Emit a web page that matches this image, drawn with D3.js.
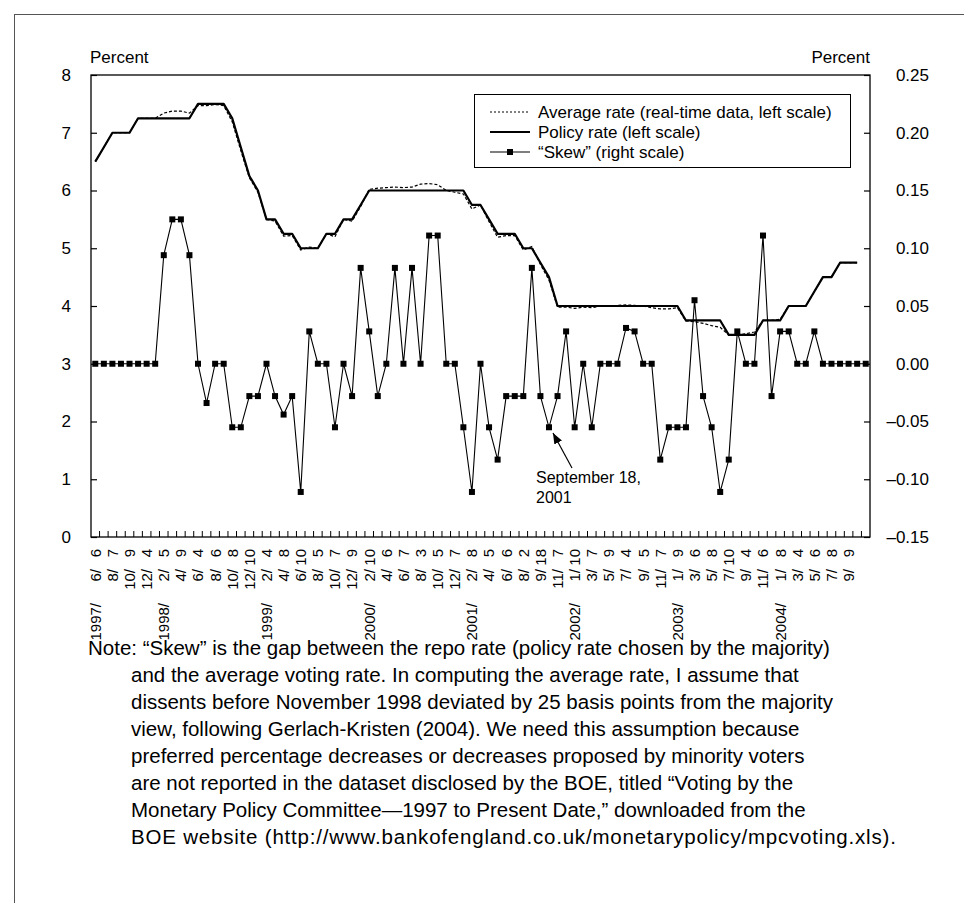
<!DOCTYPE html>
<html lang="en">
<head>
<meta charset="utf-8">
<title>Policy rate, average rate and skew</title>
<script src="https://cdn.jsdelivr.net/npm/d3@7"></script>
<style>
  body { margin: 0; background: #fff; }
  svg { display: block; font-family: "Liberation Sans", Arial, Helvetica, sans-serif; }
  .lbl { font-size: 15px; }
  .tick text { font-size: 17px; }
</style>
</head>
<body>
<div id="chart"></div>
<script>
// meeting dates (last two have no label in the original)
var dates = [
  "1997/6/6","1997/7/10","1997/8/7","1997/9/11","1997/10/9","1997/11/6","1997/12/4",
  "1998/1/8","1998/2/5","1998/3/5","1998/4/9","1998/5/7","1998/6/4","1998/7/9","1998/8/6","1998/9/10","1998/10/8","1998/11/5","1998/12/10",
  "1999/1/7","1999/2/4","1999/3/4","1999/4/8","1999/5/6","1999/6/10","1999/7/8","1999/8/5","1999/9/8","1999/10/7","1999/11/4","1999/12/9",
  "2000/1/13","2000/2/10","2000/3/9","2000/4/6","2000/5/4","2000/6/7","2000/7/6","2000/8/3","2000/9/7","2000/10/5","2000/11/9","2000/12/7",
  "2001/1/11","2001/2/8","2001/3/8","2001/4/5","2001/5/10","2001/6/6","2001/7/5","2001/8/2","2001/9/5","2001/9/18","2001/10/4","2001/11/7","2001/12/13",
  "2002/1/10","2002/2/7","2002/3/7","2002/4/4","2002/5/9","2002/6/6","2002/7/4","2002/8/1","2002/9/5","2002/10/10","2002/11/7","2002/12/12",
  "2003/1/9","2003/2/6","2003/3/6","2003/4/10","2003/5/8","2003/6/5","2003/7/10","2003/8/7","2003/9/4","2003/10/9","2003/11/6","2003/12/4",
  "2004/1/8","2004/2/5","2004/3/4","2004/4/8","2004/5/6","2004/6/10","2004/7/8","2004/8/5","2004/9/9",
  "", ""
];

var policyRate = [
  6.5, 6.75, 7.0, 7.0, 7.0, 7.25, 7.25,
  7.25, 7.25, 7.25, 7.25, 7.25, 7.5, 7.5, 7.5, 7.5, 7.25, 6.75, 6.25,
  6.0, 5.5, 5.5, 5.25, 5.25, 5.0, 5.0, 5.0, 5.25, 5.25, 5.5, 5.5,
  5.75, 6.0, 6.0, 6.0, 6.0, 6.0, 6.0, 6.0, 6.0, 6.0, 6.0, 6.0,
  6.0, 5.75, 5.75, 5.5, 5.25, 5.25, 5.25, 5.0, 5.0, 4.75, 4.5, 4.0, 4.0,
  4.0, 4.0, 4.0, 4.0, 4.0, 4.0, 4.0, 4.0, 4.0, 4.0, 4.0, 4.0,
  4.0, 3.75, 3.75, 3.75, 3.75, 3.75, 3.5, 3.5, 3.5, 3.5, 3.75, 3.75,
  3.75, 4.0, 4.0, 4.0, 4.25, 4.5, 4.5, 4.75, 4.75,
  4.75, null
];

var averageRate = [
  6.5, 6.75, 7.0, 7.0, 7.0, 7.25, 7.25,
  7.25, 7.34, 7.375, 7.375, 7.34, 7.47, 7.47, 7.49, 7.47, 7.19, 6.69, 6.22,
  5.97, 5.5, 5.47, 5.21, 5.22, 4.97, 5.02, 5.0, 5.25, 5.2, 5.5, 5.47,
  5.72, 6.02, 6.04, 6.05, 6.06, 6.05, 6.06, 6.11, 6.12, 6.1, 6.0, 5.97,
  5.94, 5.68, 5.75, 5.46, 5.19, 5.22, 5.22, 4.97, 5.03, 4.72, 4.45, 3.98, 3.98,
  3.96, 3.98, 3.97, 4.0, 4.0, 4.01, 4.02, 4.01, 4.0, 3.97, 3.95, 3.95,
  3.97, 3.74, 3.73, 3.7, 3.66, 3.63, 3.5, 3.5, 3.52, 3.55, 3.75, 3.75,
  3.77, 4.0, 4.0, 4.0, 4.25, 4.5, 4.5, 4.75, 4.75,
  4.75, null
];

var skew = [
  0, 0, 0, 0, 0, 0, 0,
  0, 0.094, 0.125, 0.125, 0.094, 0, -0.034, 0, 0, -0.055, -0.055, -0.028,
  -0.028, 0, -0.028, -0.044, -0.028, -0.111, 0.028, 0, 0, -0.055, 0, -0.028,
  0.083, 0.028, -0.028, 0, 0.083, 0, 0.083, 0, 0.111, 0.111, 0, 0,
  -0.055, -0.111, 0, -0.055, -0.083, -0.028, -0.028, -0.028, 0.083, -0.028, -0.055, -0.028, 0.028,
  -0.055, 0, -0.055, 0, 0, 0, 0.031, 0.028, 0, 0, -0.083, -0.055,
  -0.055, -0.055, 0.055, -0.028, -0.055, -0.111, -0.083, 0.028, 0, 0, 0.111, -0.028,
  0.028, 0.028, 0, 0, 0.028, 0, 0, 0, 0,
  0, 0
];

var leftTicks = [0, 1, 2, 3, 4, 5, 6, 7, 8];
var rightTicks = [-0.15, -0.10, -0.05, 0.00, 0.05, 0.10, 0.15, 0.20, 0.25];
var legendNames = [
  "Average rate (real-time data, left scale)",
  "Policy rate (left scale)",
  "\u201cSkew\u201d (right scale)"
];
var noteLines = [
  "Note: \u201cSkew\u201d is the gap between the repo rate (policy rate chosen by the majority)",
  "and the average voting rate. In computing the average rate, I assume that",
  "dissents before November 1998 deviated by 25 basis points from the majority",
  "view, following Gerlach-Kristen (2004). We need this assumption because",
  "preferred percentage decreases or decreases proposed by minority voters",
  "are not reported in the dataset disclosed by the BOE, titled \u201cVoting by the",
  "Monetary Policy Committee\u20141997 to Present Date,\u201d downloaded from the",
  "BOE website (http://www.bankofengland.co.uk/monetarypolicy/mpcvoting.xls)."
];

var W = 964, H = 903;
var mL = 91, mR = 870, mT = 75, mB = 537;

var svg = d3.select("#chart").append("svg")
    .attr("width", W)
    .attr("height", H);

// outer frame (only top and left edges are visible)
svg.append("rect")
    .attr("x", 14.5).attr("y", 14.5)
    .attr("width", W).attr("height", H)
    .style("fill", "none").style("stroke", "#555").style("stroke-width", 1);

var x = d3.scaleBand()
    .domain(d3.range(dates.length))
    .range([mL, mR]);
var cx = i => x(i) + x.bandwidth() / 2;

var yL = d3.scaleLinear().domain([0, 8]).range([mB, mT]);
var yR = d3.scaleLinear().domain([-0.15, 0.25]).range([mB, mT]);

var fmtR = d => (d < -1e-9 ? "\u2013" : "") + d3.format(".2f")(Math.abs(d));

// left axis
var gL = svg.append("g")
    .attr("transform", `translate(${mL},0)`)
    .call(d3.axisLeft(yL).tickValues(leftTicks).tickSizeInner(-6).tickSizeOuter(0).tickPadding(20).tickFormat(d3.format("d")));
gL.select(".domain").remove();

// right axis
var gR = svg.append("g")
    .attr("transform", `translate(${mR},0)`)
    .call(d3.axisRight(yR).tickValues(rightTicks).tickSizeInner(-6).tickSizeOuter(0).tickFormat(fmtR));
gR.select(".domain").remove();
gR.selectAll(".tick text").attr("x", 59).attr("text-anchor", "end");

svg.selectAll(".tick line").style("stroke", "#000").style("stroke-width", 1.2);
svg.selectAll(".tick text").style("fill", "#000");

// bottom ticks at category boundaries
svg.append("g").selectAll("line")
    .data(d3.range(1, dates.length))
    .join("line")
    .attr("x1", d => x(d)).attr("x2", d => x(d))
    .attr("y1", mB).attr("y2", mB - 6)
    .style("stroke", "#000").style("stroke-width", 1);

// plot frame
svg.append("rect")
    .attr("x", mL).attr("y", mT)
    .attr("width", mR - mL).attr("height", mB - mT)
    .style("fill", "none").style("stroke", "#000").style("stroke-width", 1.3);

// axis titles
svg.append("text").attr("x", mL - 1).attr("y", 63).style("font-size", "17px").text("Percent");
svg.append("text").attr("x", mR).attr("y", 63).attr("text-anchor", "end").style("font-size", "17px").text("Percent");

// category labels, every other meeting
var seenYear = {};
var labelData = [];
dates.forEach((d, i) => {
  if (i % 2 !== 0 || d === "") return;
  var p = d.split("/");
  var showYear = !seenYear[p[0]];
  seenYear[p[0]] = true;
  labelData.push({ i: i, y: p[0], m: p[1], d: p[2], showYear: showYear });
});

var lab = svg.append("g").selectAll("g")
    .data(labelData)
    .join("g")
    .attr("class", "lbl")
    .attr("transform", d => `translate(${cx(d.i)},${mB}) rotate(-90)`);
lab.append("text").attr("x", -12).attr("dy", "0.36em").attr("text-anchor", "end").text(d => d.d);
lab.append("text").attr("x", -32).attr("dy", "0.36em").attr("text-anchor", "end").text(d => d.m + "/");
lab.filter(d => d.showYear)
    .append("text").attr("x", -66).attr("dy", "0.36em").attr("text-anchor", "end").text(d => d.y + "/");

// series
var idx = d3.range(dates.length);
var lineL = arr => d3.line().defined(i => arr[i] != null).x(cx).y(i => yL(arr[i]));

svg.append("path")
    .datum(idx)
    .attr("d", lineL(averageRate))
    .style("fill", "none").style("stroke", "#000").style("stroke-width", 1.2)
    .style("stroke-dasharray", "3,2");

svg.append("path")
    .datum(idx)
    .attr("d", lineL(policyRate))
    .style("fill", "none").style("stroke", "#000").style("stroke-width", 2.2)
    .style("stroke-linejoin", "round");

svg.append("path")
    .datum(idx)
    .attr("d", d3.line().x(cx).y(i => yR(skew[i])))
    .style("fill", "none").style("stroke", "#000").style("stroke-width", 1.1);

svg.append("g").selectAll("rect")
    .data(idx)
    .join("rect")
    .attr("x", i => cx(i) - 3).attr("y", i => yR(skew[i]) - 3)
    .attr("width", 6).attr("height", 6)
    .style("fill", "#000");

// legend
var lg = svg.append("g");
lg.append("rect")
    .attr("x", 474.5).attr("y", 94.5).attr("width", 376).attr("height", 73)
    .style("fill", "#fff").style("stroke", "#000").style("stroke-width", 1);
var rowY = [112, 132, 152];
var rows = lg.selectAll("g.row").data(legendNames).join("g").attr("class", "row")
    .attr("transform", (d, i) => `translate(0,${rowY[i]})`);
rows.append("line")
    .attr("x1", 490).attr("x2", 530)
    .style("stroke", "#000")
    .style("stroke-width", (d, i) => i === 1 ? 2 : 1.1)
    .style("stroke-dasharray", (d, i) => i === 0 ? "2,2" : null);
rows.filter((d, i) => i === 2).append("rect")
    .attr("x", 507).attr("y", -3).attr("width", 6).attr("height", 6).style("fill", "#000");
rows.append("text")
    .attr("x", 538).attr("dy", "0.36em")
    .style("font-size", "17px")
    .text(d => d);

// annotation
svg.append("defs").append("marker")
    .attr("id", "arr").attr("viewBox", "0 0 10 10")
    .attr("refX", 10).attr("refY", 5)
    .attr("markerWidth", 9).attr("markerHeight", 9)
    .attr("orient", "auto")
    .append("path").attr("d", "M0,1L10,5L0,9z").style("fill", "#000");
svg.append("line")
    .attr("x1", 572).attr("y1", 468)
    .attr("x2", 553).attr("y2", 433)
    .style("stroke", "#000").style("stroke-width", 1.2)
    .attr("marker-end", "url(#arr)");
svg.append("text").attr("x", 536).attr("y", 483).style("font-size", "16px").text("September 18,");
svg.append("text").attr("x", 536).attr("y", 503).style("font-size", "16px").text("2001");

// note (the url line is set a bit looser, as in the original)
svg.append("g").selectAll("text")
    .data(noteLines)
    .join("text")
    .attr("x", (d, i) => i === 0 ? 88 : 131)
    .attr("y", (d, i) => 655 + i * 27)
    .style("font-size", "20.5px")
    .style("letter-spacing", (d, i) => i === noteLines.length - 1 ? "0.8px" : null)
    .text(d => d);
</script>
</body>
</html>
